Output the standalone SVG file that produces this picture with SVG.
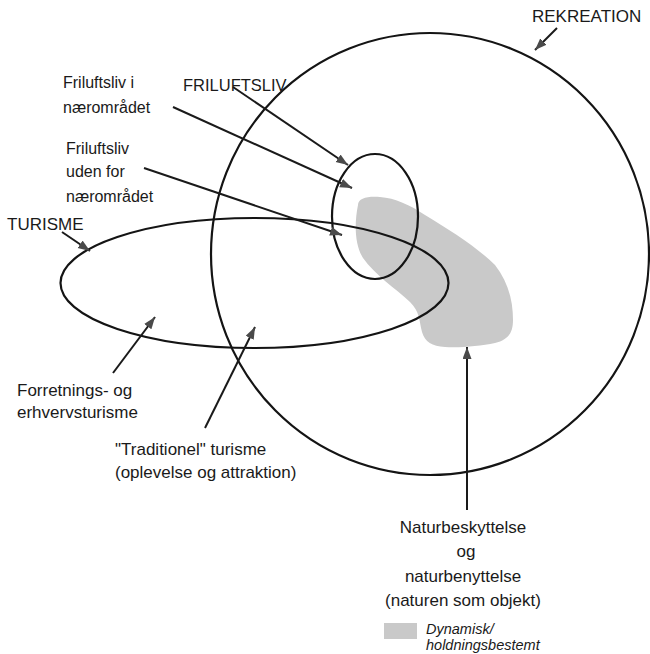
<svg xmlns="http://www.w3.org/2000/svg" width="650" height="654" viewBox="0 0 650 654">
  <style>
    .outline { fill: none; stroke: #141414; stroke-width: 2.2; }
    .conn { stroke: #1a1a1a; stroke-width: 2; fill: none; marker-end: url(#arrow); }
    .lbl { font-family: "Liberation Sans", Arial, sans-serif; font-size: 17px; fill: #1a1a1a; }
    .sm { font-size: 16px; }
    .ctr { text-anchor: middle; }
    .leg { font-family: "Liberation Sans", Arial, sans-serif; font-size: 14.5px; font-style: italic; fill: #1a1a1a; }
    .blob { fill: #c9c9c9; }
  </style>
  <defs>
    <marker id="arrow" markerUnits="userSpaceOnUse" markerWidth="14" markerHeight="10" refX="12" refY="4.5" orient="auto">
      <path d="M0,0 L12,4.5 L0,9 Z" fill="#4a4a4a"/>
    </marker>
  </defs>
  <rect width="650" height="654" fill="#ffffff"/>

  <g id="dynamisk-omraade">
    <path class="blob" d="M358,205 C358,198 368,196 380,197 C395,198 410,205 425,215 C450,230 478,248 495,265 C508,282 513,300 513,320 C513,333 508,340 495,343 C480,346 460,348 445,347 C432,346 425,342 422,332 C419,320 420,312 410,302 C395,288 375,275 363,258 C355,245 354,225 358,205 Z"/>
  </g>

  <g id="rekreation">
    <ellipse class="outline" cx="430" cy="254" rx="219" ry="221"/>
    <text class="lbl" x="532" y="22">REKREATION</text>
  </g>

  <g id="friluftsliv">
    <ellipse class="outline" cx="375" cy="216.5" rx="43" ry="62.5"/>
    <text class="lbl" x="183" y="91" style="font-size:16.5px">FRILUFTSLIV</text>
  </g>

  <g id="turisme">
    <ellipse class="outline" cx="254.5" cy="283" rx="194" ry="65"/>
    <text class="lbl" x="7" y="230">TURISME</text>
  </g>

  <g id="friluftsliv-naer">
    <text class="lbl sm" x="63" y="88">Friluftsliv i</text>
    <text class="lbl sm" x="63" y="113">nærområdet</text>
  </g>

  <g id="friluftsliv-uden">
    <text class="lbl sm" x="66" y="154">Friluftsliv</text>
    <text class="lbl sm" x="66" y="177">uden for</text>
    <text class="lbl sm" x="66" y="202">nærområdet</text>
  </g>

  <g id="forretning">
    <text class="lbl" x="17" y="396">Forretnings- og</text>
    <text class="lbl" x="17" y="418">erhvervsturisme</text>
  </g>

  <g id="traditionel">
    <text class="lbl" x="115" y="455">"Traditionel" turisme</text>
    <text class="lbl" x="115" y="478">(oplevelse og attraktion)</text>
  </g>

  <g id="natur">
    <text class="lbl ctr" x="463" y="533">Naturbeskyttelse</text>
    <text class="lbl ctr" x="466" y="557">og</text>
    <text class="lbl ctr" x="463" y="582">naturbenyttelse</text>
    <text class="lbl ctr" x="463" y="606">(naturen som objekt)</text>
  </g>

  <g id="legend">
    <rect class="blob" x="384" y="623" width="33" height="16"/>
    <text class="leg" x="426" y="634">Dynamisk/</text>
    <text class="leg" x="426" y="650">holdningsbestemt</text>
  </g>

  <g id="connectors">
    <line class="conn" x1="557" y1="28" x2="535" y2="50"/>
    <line class="conn" x1="233" y1="87" x2="348" y2="165"/>
    <line class="conn" x1="173" y1="107" x2="352" y2="188"/>
    <line class="conn" x1="144" y1="168" x2="342" y2="235"/>
    <line class="conn" x1="62" y1="232" x2="90" y2="251"/>
    <line class="conn" x1="113" y1="373" x2="155" y2="317"/>
    <line class="conn" x1="205" y1="428" x2="255" y2="327"/>
    <line class="conn" x1="467" y1="510" x2="467" y2="347"/>
  </g>
</svg>
